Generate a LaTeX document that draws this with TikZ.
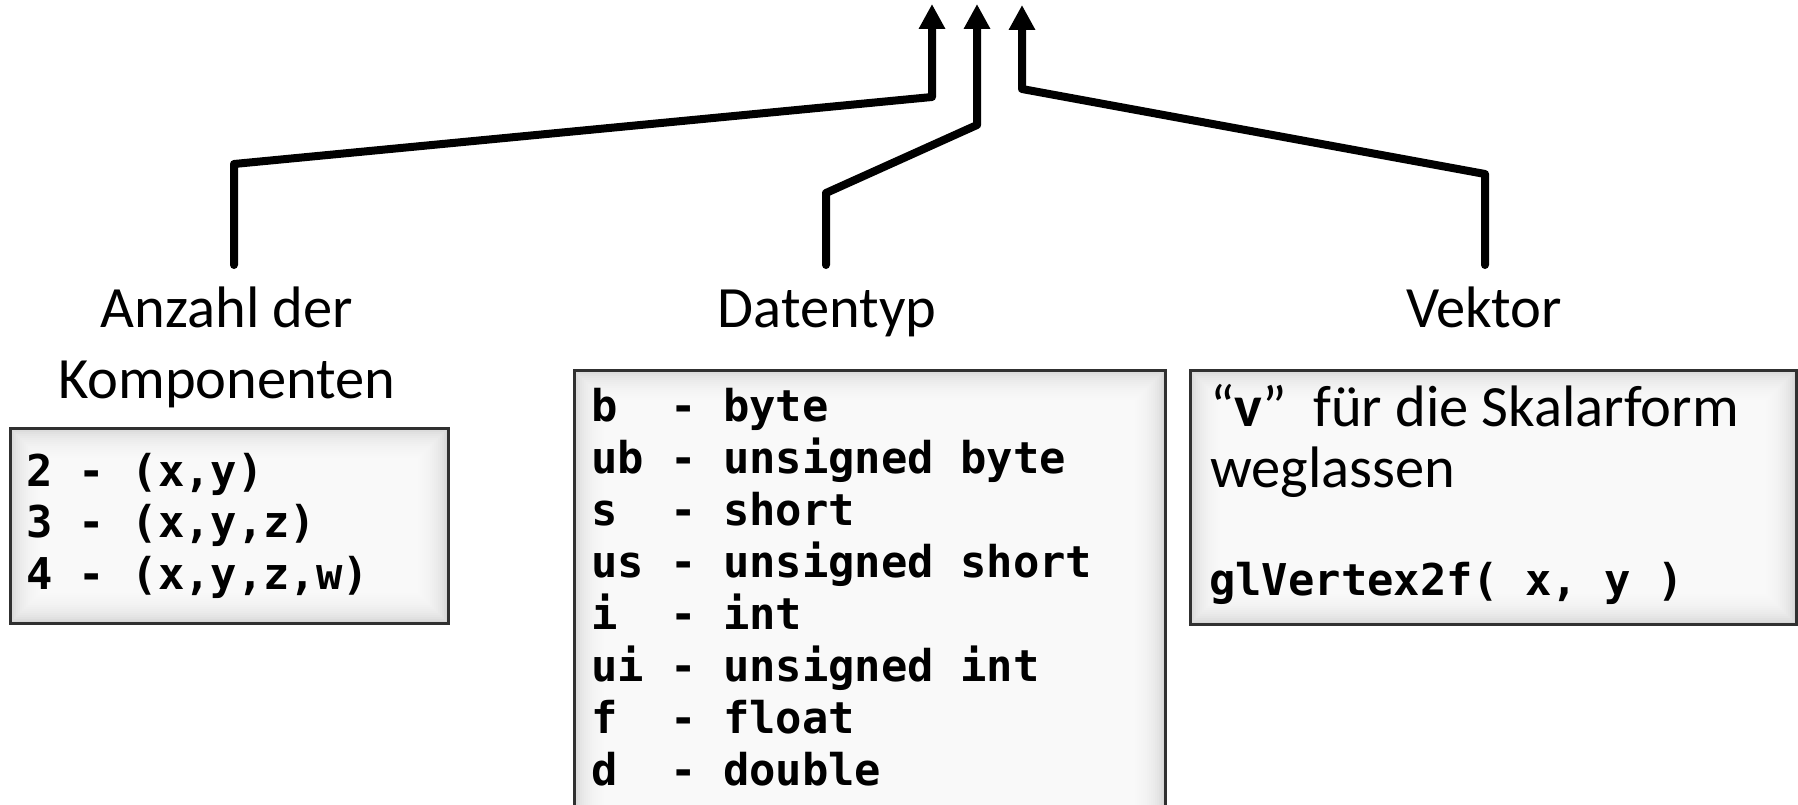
\documentclass[tikz,border=0pt]{standalone}
\usepackage{fontspec}
\setmainfont{Carlito}
\newfontfamily\codefont{DejaVu Sans Mono}
\usetikzlibrary{arrows.meta}
\definecolor{boxborder}{HTML}{303030}
\newcommand\labeltext{\fontsize{58.5}{71}\selectfont}
\newcommand\monotext{\codefont\bfseries\fontsize{43.8}{51.9}\selectfont}
\begin{document}
\begin{tikzpicture}[x=1pt,y=-1pt,
  conn/.style={line width=8pt, line join=round, line cap=round,
    -{Triangle[length=25pt,width=25pt]}},
  infobox/.style={draw=boxborder, line width=2.8pt, fill=gray!32, inner sep=0pt,
    anchor=north west,
    path picture={
      \foreach \i in {1,...,16}{
        \fill[white,opacity=0.15]
          ([shift={(\i*2pt,\i*2pt)}]path picture bounding box.south west)
          rectangle
          ([shift={(-\i*2pt,-\i*2pt)}]path picture bounding box.north east);
      }
    }},
  txt/.style={anchor=base west, inner sep=0pt},
  lbl/.style={anchor=base, inner sep=0pt, font=\labeltext}
]
\useasboundingbox (0,0) rectangle (1798,805);

% category labels
\node[lbl] (lblComp) at (227,327)
  {\begin{tabular}[t]{@{}c@{}}Anzahl der\\Komponenten\end{tabular}};
\node[lbl] (lblType) at (827,327) {Datentyp};
\node[lbl] (lblVec) at (1484,327) {Vektor};

% boxes
\node[infobox, minimum width=438pt, minimum height=195pt] (boxComp) at (9,427) {};
\node[infobox, minimum width=591pt, minimum height=470pt] (boxType) at (573,369) {};
\node[infobox, minimum width=606pt, minimum height=254pt] (boxVec) at (1189,369) {};

% box contents
\node[txt] (txtComp) at (26,486) {\monotext\begin{tabular}[t]{@{}l@{}}
  2~-~(x,y)\\ 3~-~(x,y,z)\\ 4~-~(x,y,z,w)\end{tabular}};
\node[txt] (txtType) at (591,421.7) {\monotext\begin{tabular}[t]{@{}l@{}}
  b~~-~byte\\ ub~-~unsigned~byte\\ s~~-~short\\ us~-~unsigned~short\\
  i~~-~int\\ ui~-~unsigned~int\\ f~~-~float\\ d~~-~double\end{tabular}};
\node[txt] (txtVec1) at (1210,426) {\labeltext “\textbf{v}”\ \ für die Skalarform};
\node[txt] (txtVec2) at (1210,487) {\labeltext weglassen};
\node[txt] (txtVec3) at (1209,595) {\monotext glVertex2f(~x,~y~)};

% connector ends
\coordinate (startComp) at (234,265);
\coordinate (startType) at (826,265);
\coordinate (startVec) at (1485,265);
\coordinate (tipComp) at (932,4);
\coordinate (tipType) at (977,4);
\coordinate (tipVec) at (1022,5);

% connectors
\draw[conn] (startComp) -- (234,164) -- (932,97) -- (tipComp);
\draw[conn] (startType) -- (826,193) -- (977,125) -- (tipType);
\draw[conn] (startVec) -- (1485,174) -- (1022,89) -- (tipVec);
\end{tikzpicture}
\end{document}
